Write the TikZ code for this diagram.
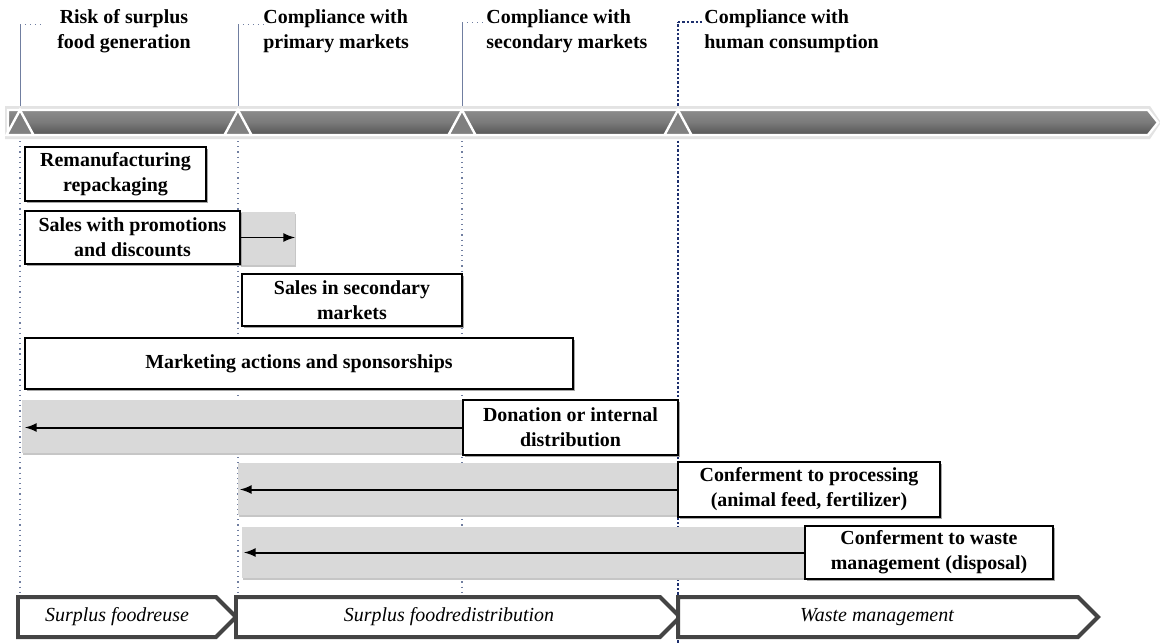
\documentclass[tikz,border=0pt]{standalone}
\usepackage{fontspec}
\setmainfont{Liberation Serif}
\usepackage{tikz}
\usetikzlibrary{arrows,shapes,shadows}
\definecolor{barTop}{RGB}{140,140,140}
\definecolor{barMid}{RGB}{122,122,122}
\definecolor{barBot}{RGB}{84,84,84}
\definecolor{guide}{RGB}{112,126,160}
\definecolor{navy}{RGB}{30,48,110}
\definecolor{band}{RGB}{217,217,217}
\definecolor{edge}{RGB}{68,68,68}
\tikzset{
  act/.style={draw,fill=white,line width=0.8pt,align=center,inner sep=0pt,
    font=\bfseries\fontsize{10}{12.5}\selectfont,
    drop shadow={shadow xshift=0.9bp,shadow yshift=-0.9bp,fill=gray!70,opacity=1}},
  head/.style={align=left,anchor=west,inner sep=0pt,font=\bfseries\fontsize{10}{12.8}\selectfont},
  phase/.style={font=\itshape\fontsize{10}{12}\selectfont},
  phasebox/.style={draw=edge,fill=white,line width=2pt},
  leadln/.style={guide,line width=0.5pt},
  guideln/.style={guide,dotted,line width=0.6pt},
  keyln/.style={navy,densely dotted,line width=1.2pt},
  gap/.style={fill=band,drop shadow={shadow xshift=0.6bp,shadow yshift=-0.8bp,fill=gray!45,opacity=1}},
}
\begin{document}
\begin{tikzpicture}
\useasboundingbox (0bp,0bp) rectangle (580bp,-321.5bp);

% milestones on the time bar
\coordinate (M1) at (10bp,-55bp);
\coordinate (M2) at (119bp,-55bp);
\coordinate (M3) at (231bp,-55bp);
\coordinate (M4) at (339bp,-55bp);

% headings and their leaders
\node (Risk) at (62bp,-15.5bp)[head,anchor=center,align=center] {Risk of surplus\\food generation};
\node (Prim) at (131.5bp,-15.5bp)[head] {Compliance with\\primary markets};
\node (Sec) at (243bp,-15.5bp)[head] {Compliance with\\secondary markets};
\node (Hum) at (352bp,-15.5bp)[head] {Compliance with\\human consumption};
\draw [leadln] (M1) -- (10bp,-12bp) coordinate (T1);
\draw [leadln] (M2) -- (119bp,-12bp) coordinate (T2);
\draw [leadln] (M3) -- (231bp,-11bp) coordinate (T3);
\draw [keyln] (M4) -- (339bp,-11bp) coordinate (T4);
\draw [leadln,dotted] (T1) -- ++(11bp,0);
\draw [leadln,dotted] (T2) -- (Prim.west |- T2);
\draw [leadln,dotted] (T3) -- (Sec.west |- T3);
\draw [keyln] (T4) -- (Hum.west |- T4);

% guide lines under the bar
\draw [guideln] (M1) -- ++(0,-243.5bp);
\draw [guideln] (M2) -- ++(0,-243.5bp);
\draw [guideln] (M3) -- ++(0,-243.5bp);
\draw [keyln] (M4) -- ++(0,-266.5bp);

% time bar
\fill [gray!22] (2.5bp,-53bp) -- (575bp,-53bp) -- (580.5bp,-61.25bp) -- (575bp,-69.5bp) -- (2.5bp,-69.5bp) -- cycle;
\draw [white,line width=1.2pt,top color=barTop,bottom color=barBot,middle color=barMid]
  (4bp,-55bp) -- (574bp,-55bp) -- (579bp,-61.25bp) -- (574bp,-67.5bp) -- (4bp,-67.5bp) -- cycle;
\filldraw [white,fill=gray,line width=1.2pt] (M1) -- ++(-6.75bp,-12.5bp) -- ++(13.5bp,0) -- cycle;
\filldraw [white,fill=gray,line width=1.2pt] (M2) -- ++(-6.75bp,-12.5bp) -- ++(13.5bp,0) -- cycle;
\filldraw [white,fill=gray,line width=1.2pt] (M3) -- ++(-6.75bp,-12.5bp) -- ++(13.5bp,0) -- cycle;
\filldraw [white,fill=gray,line width=1.2pt] (M4) -- ++(-6.75bp,-12.5bp) -- ++(13.5bp,0) -- cycle;

% grey spans
\fill [gap] (120bp,-106bp) rectangle (147.5bp,-132.5bp);
\fill [gap] (11bp,-200bp) rectangle (231.5bp,-226.5bp);
\fill [gap] (119bp,-231.5bp) rectangle (339bp,-257.5bp);
\fill [gap] (121bp,-263.5bp) rectangle (402.5bp,-289bp);

% actions
\node (Reman) at (57.75bp,-87bp)[act,minimum width=90.5bp,minimum height=27bp] {Remanufacturing\\repackaging};
\node (Promo) at (66.25bp,-118.75bp)[act,minimum width=107.5bp,minimum height=26.5bp] {Sales with promotions\\and discounts};
\node (Second) at (176bp,-150bp)[act,minimum width=110bp,minimum height=26bp] {Sales in secondary\\markets};
\node (Market) at (149.5bp,-181.75bp)[act,minimum width=274bp,minimum height=25.5bp] {Marketing actions and sponsorships};
\node (Donat) at (285.25bp,-213.75bp)[act,minimum width=107.5bp,minimum height=27.5bp] {Donation or internal\\distribution};
\node (Proc) at (404.5bp,-244.75bp)[act,minimum width=131bp,minimum height=27.5bp] {Conferment to processing\\(animal feed, fertilizer)};
\node (Waste) at (464.5bp,-276.25bp)[act,minimum width=124bp,minimum height=26.5bp] {Conferment to waste\\management (disposal)};

\coordinate (PromoEnd) at (147.5bp,-118.75bp);
\coordinate (DonatEnd) at (12.5bp,-213.75bp);
\coordinate (ProcEnd) at (120bp,-244.75bp);
\coordinate (WasteEnd) at (122bp,-276.25bp);
\draw [-latex,line width=1pt] (Promo) to (PromoEnd);
\draw [-latex,line width=1pt] (Donat) to (DonatEnd);
\draw [-latex,line width=1pt] (Proc) to (ProcEnd);
\draw [-latex,line width=1pt] (Waste) to (WasteEnd);

% phases
\draw [phasebox] (9bp,-298.5bp) -- (108bp,-298.5bp) -- (118bp,-308.5bp) -- (108bp,-318.5bp) -- (9bp,-318.5bp) -- cycle;
\draw [phasebox] (118bp,-298.5bp) -- (330bp,-298.5bp) -- (340bp,-308.5bp) -- (330bp,-318.5bp) -- (118bp,-318.5bp) -- cycle;
\draw [phasebox] (339bp,-298.5bp) -- (539bp,-298.5bp) -- (549bp,-308.5bp) -- (539bp,-318.5bp) -- (339bp,-318.5bp) -- cycle;
\node (Reuse) at (58.5bp,-308.5bp)[phase] {Surplus foodreuse};
\node (Redist) at (224.5bp,-308.5bp)[phase] {Surplus foodredistribution};
\node (WasteM) at (438.5bp,-308.5bp)[phase] {Waste management};
\end{tikzpicture}
\end{document}
